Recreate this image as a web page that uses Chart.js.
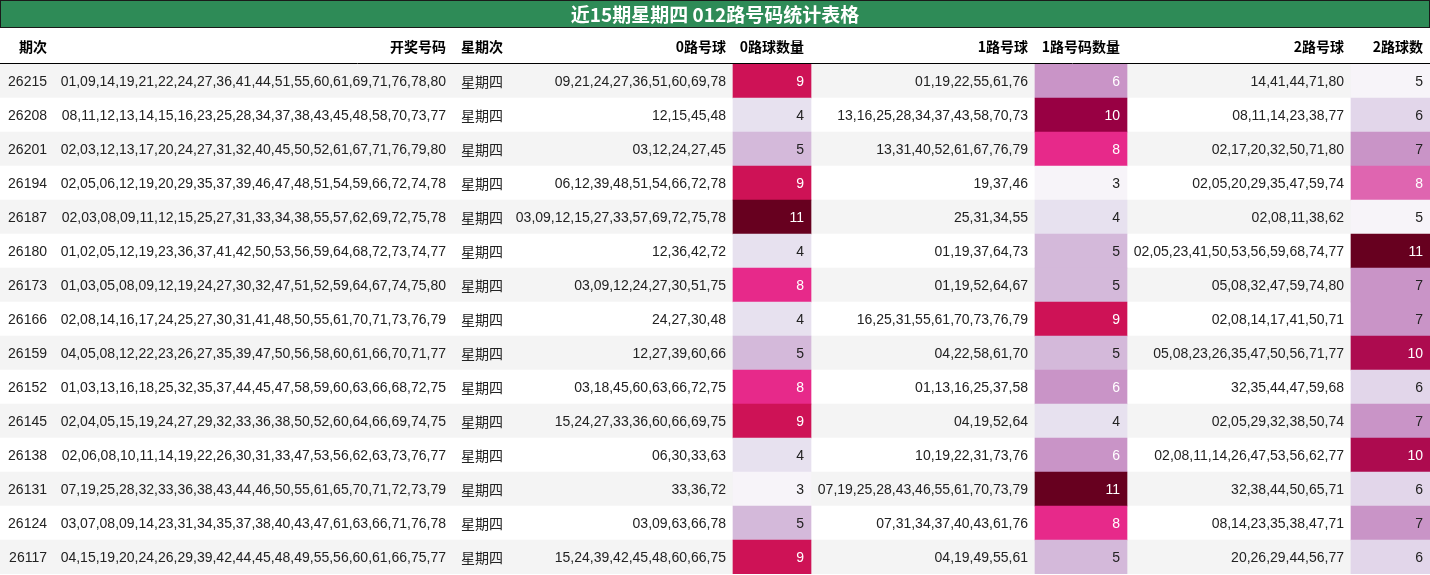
<!DOCTYPE html>
<html>
<head>
<meta charset="utf-8">
<script src="https://cdn.jsdelivr.net/npm/chart.js@4"></script>
<style>
  body { margin: 0; background: #fff; }
  canvas { display: block; }
</style>
</head>
<body>
<canvas id="tableChart" width="1430" height="575"></canvas>
<script>
// Datos de la tabla
const title = '近15期星期四 012路号码统计表格';
const headers = ['期次', '开奖号码', '星期次', '0路号球', '0路球数量', '1路号球', '1路号码数量', '2路号球', '2路球数'];
const issues = ['26215','26208','26201','26194','26187','26180','26173','26166','26159','26152','26145','26138','26131','26124','26117'];
const draws = [
  '01,09,14,19,21,22,24,27,36,41,44,51,55,60,61,69,71,76,78,80',
  '08,11,12,13,14,15,16,23,25,28,34,37,38,43,45,48,58,70,73,77',
  '02,03,12,13,17,20,24,27,31,32,40,45,50,52,61,67,71,76,79,80',
  '02,05,06,12,19,20,29,35,37,39,46,47,48,51,54,59,66,72,74,78',
  '02,03,08,09,11,12,15,25,27,31,33,34,38,55,57,62,69,72,75,78',
  '01,02,05,12,19,23,36,37,41,42,50,53,56,59,64,68,72,73,74,77',
  '01,03,05,08,09,12,19,24,27,30,32,47,51,52,59,64,67,74,75,80',
  '02,08,14,16,17,24,25,27,30,31,41,48,50,55,61,70,71,73,76,79',
  '04,05,08,12,22,23,26,27,35,39,47,50,56,58,60,61,66,70,71,77',
  '01,03,13,16,18,25,32,35,37,44,45,47,58,59,60,63,66,68,72,75',
  '02,04,05,15,19,24,27,29,32,33,36,38,50,52,60,64,66,69,74,75',
  '02,06,08,10,11,14,19,22,26,30,31,33,47,53,56,62,63,73,76,77',
  '07,19,25,28,32,33,36,38,43,44,46,50,55,61,65,70,71,72,73,79',
  '03,07,08,09,14,23,31,34,35,37,38,40,43,47,61,63,66,71,76,78',
  '04,15,19,20,24,26,29,39,42,44,45,48,49,55,56,60,61,66,75,77'
];
const weekday = '星期四';
const road0 = ['09,21,24,27,36,51,60,69,78','12,15,45,48','03,12,24,27,45','06,12,39,48,51,54,66,72,78','03,09,12,15,27,33,57,69,72,75,78','12,36,42,72','03,09,12,24,27,30,51,75','24,27,30,48','12,27,39,60,66','03,18,45,60,63,66,72,75','15,24,27,33,36,60,66,69,75','06,30,33,63','33,36,72','03,09,63,66,78','15,24,39,42,45,48,60,66,75'];
const count0 = [9,4,5,9,11,4,8,4,5,8,9,4,3,5,9];
const road1 = ['01,19,22,55,61,76','13,16,25,28,34,37,43,58,70,73','13,31,40,52,61,67,76,79','19,37,46','25,31,34,55','01,19,37,64,73','01,19,52,64,67','16,25,31,55,61,70,73,76,79','04,22,58,61,70','01,13,16,25,37,58','04,19,52,64','10,19,22,31,73,76','07,19,25,28,43,46,55,61,70,73,79','07,31,34,37,40,43,61,76','04,19,49,55,61'];
const count1 = [6,10,8,3,4,5,5,9,5,6,4,6,11,8,5];
const road2 = ['14,41,44,71,80','08,11,14,23,38,77','02,17,20,32,50,71,80','02,05,20,29,35,47,59,74','02,08,11,38,62','02,05,23,41,50,53,56,59,68,74,77','05,08,32,47,59,74,80','02,08,14,17,41,50,71','05,08,23,26,35,47,50,56,71,77','32,35,44,47,59,68','02,05,29,32,38,50,74','02,08,11,14,26,47,53,56,62,77','32,38,44,50,65,71','08,14,23,35,38,47,71','20,26,29,44,56,77'];
const count2 = [5,6,7,8,5,11,7,7,10,6,7,10,6,7,6];

// Diseño: bordes de columnas y colores
const colEdges = [0, 54, 453, 510, 733, 811, 1035, 1127, 1351, 1430];
const heat0 = {3:'#f7f4f9',4:'#e7e1ef',5:'#d4b9da',8:'#e7298a',9:'#ce1256',11:'#67001f'};
const heat1 = {3:'#f7f4f9',4:'#e7e1ef',5:'#d4b9da',6:'#c994c7',8:'#e7298a',9:'#ce1256',10:'#980043',11:'#67001f'};
const heat2 = {5:'#f7f4f9',6:'#e2d6ea',7:'#c994c7',8:'#df65b0',10:'#ad0b4f',11:'#67001f'};
const whiteFrom = [8, 6, 8];

const columns = [issues, draws, issues.map(() => weekday), road0, count0, road1, count1, road2, count2];
const counts = [count0, count1, count2];
const heats = [heat0, heat1, heat2];

function span(col) { return issues.map(() => [colEdges[col], colEdges[col + 1]]); }

// franjas de fondo (se dibujan primero)
const datasets = [{
  order: 10,
  data: issues.map(() => [0, 1430]),
  backgroundColor: issues.map((_, i) => i % 2 === 0 ? '#f4f4f4' : '#ffffff')
}];
[4, 6, 8].forEach((col, k) => {
  datasets.push({
    order: 1,
    data: span(col),
    backgroundColor: counts[k].map(v => heats[k][v])
  });
});

const tablePlugin = {
  id: 'tableText',
  afterDatasetsDraw(chart) {
    const ctx = chart.ctx;
    const y = chart.scales.y;
    ctx.save();
    // título
    ctx.fillStyle = '#2e8b57';
    ctx.fillRect(0, 0, 1430, 27);
    ctx.strokeStyle = '#1a1a1a';
    ctx.lineWidth = 1;
    ctx.strokeRect(0.5, 0.5, 1429, 27);
    ctx.fillStyle = '#ffffff';
    ctx.font = 'bold 19px "Noto Sans CJK SC"';
    ctx.textAlign = 'center';
    ctx.textBaseline = 'middle';
    ctx.fillText(title, 715, 15);
    // encabezado
    ctx.fillStyle = '#000';
    ctx.font = 'bold 14px "Noto Sans CJK SC", "Liberation Sans"';
    ctx.textAlign = 'right';
    headers.forEach((h, c) => ctx.fillText(h, colEdges[c + 1] - 7, 47));
    ctx.beginPath();
    ctx.moveTo(0, 63.5);
    ctx.lineTo(1430, 63.5);
    ctx.strokeStyle = '#000';
    ctx.stroke();
    // celdas
    issues.forEach((_, i) => {
      const cy = y.getPixelForValue(i) + 1;
      columns.forEach((col, c) => {
        let color = '#222';
        const k = [4, 6, 8].indexOf(c);
        if (k >= 0 && col[i] >= whiteFrom[k]) color = '#ffffff';
        ctx.fillStyle = color;
        ctx.font = c === 2 ? '14px "Noto Sans CJK SC"' : '14px "Liberation Sans", "Noto Sans CJK SC"';
        ctx.fillText(String(col[i]), colEdges[c + 1] - 7, cy);
      });
    });
    ctx.restore();
  }
};

new Chart(document.getElementById('tableChart'), {
  type: 'bar',
  data: { labels: issues, datasets: datasets },
  options: {
    responsive: false,
    animation: false,
    indexAxis: 'y',
    layout: { padding: { top: 64, left: 0, right: 0, bottom: 1 } },
    datasets: { bar: { barPercentage: 1, categoryPercentage: 1, grouped: false, borderWidth: 0 } },
    plugins: { legend: { display: false }, tooltip: { enabled: false } },
    scales: {
      x: { display: false, min: 0, max: 1430 },
      y: { display: false, offset: true }
    }
  },
  plugins: [tablePlugin]
});
</script>
</body>
</html>
